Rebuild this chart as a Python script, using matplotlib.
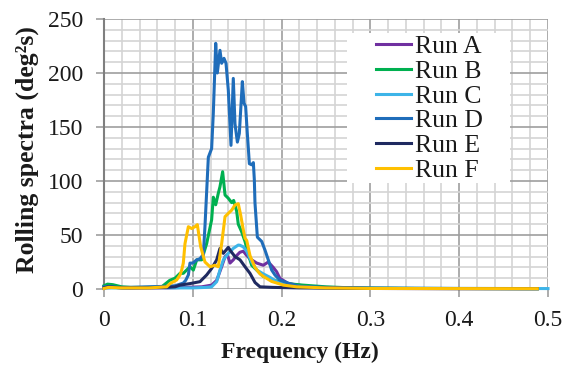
"""Rolling spectra for six runs, re-drawn from the reference figure."""

import matplotlib
matplotlib.use("Agg")
import matplotlib.pyplot as plt
import matplotlib.patches as mpatches
from matplotlib.ticker import MultipleLocator

# values
freq_a = [0, 0.01, 0.03, 0.05, 0.07, 0.09, 0.11, 0.1212, 0.1269, 0.1325, 0.1363, 0.139,
          0.1419, 0.1456, 0.1494, 0.153, 0.1569, 0.1607, 0.1644, 0.172, 0.1794, 0.185,
          0.1906, 0.1944, 0.198, 0.2076, 0.22, 0.231, 0.26, 0.3, 0.4, 0.488]
run_a = [1, 1.5, 1, 1.2, 1, 1.5, 2, 3.6, 8, 20.6, 30, 31.8,
         24, 27, 31, 34, 35, 31, 28, 24, 22, 25,
         20, 16, 10, 5, 3.5, 1.5, 1, 0.5, 0.3, 0.3]

freq_b = [0, 0.004, 0.01, 0.02, 0.03, 0.05, 0.065, 0.074, 0.08, 0.0856, 0.0893, 0.0968,
          0.1006, 0.1044, 0.11, 0.1156, 0.1212, 0.1231, 0.1258, 0.1287, 0.1306, 0.1336,
          0.1363, 0.14, 0.1438, 0.146, 0.1494, 0.1512, 0.155, 0.1588, 0.1625, 0.1663,
          0.1701, 0.1757, 0.1794, 0.1906, 0.2057, 0.224, 0.25, 0.28, 0.35, 0.488]
run_b = [3, 4.5, 4, 2, 1.5, 1.5, 2, 8, 10, 14.5, 14.5, 20.6,
         17.5, 27, 27, 42, 64, 85, 78, 88.6, 94.7, 108.6,
         87, 84, 80, 82, 72, 60, 53, 44, 32, 22,
         19, 14.5, 11.7, 8.3, 5, 3.6, 2, 1, 0.5, 0.3]

freq_c = [0, 0.02, 0.05, 0.08, 0.1, 0.115, 0.1212, 0.1269, 0.1306, 0.1344, 0.14, 0.1456,
          0.1512, 0.1532, 0.1569, 0.1607, 0.1663, 0.172, 0.1794, 0.1869, 0.1944, 0.2057,
          0.231, 0.26, 0.3, 0.4, 0.5]
run_c = [1, 1, 1.5, 1, 1, 1.5, 2, 6.8, 17.6, 27, 33, 37.6,
         40.7, 40.5, 39, 35, 25, 17.6, 14, 10.8, 6.8, 3.6,
         1.5, 1, 0.7, 0.5, 0.4]

freq_d = [0, 0.006, 0.015, 0.03, 0.05, 0.07, 0.08, 0.0893, 0.092, 0.095, 0.0968, 0.1,
          0.1044, 0.108, 0.1119, 0.1137, 0.1175, 0.1212, 0.1231, 0.1258, 0.1276, 0.1306,
          0.1325, 0.1351, 0.1374, 0.14, 0.143, 0.1456, 0.1475, 0.1502, 0.1524, 0.1558,
          0.1577, 0.1595, 0.1614, 0.1637, 0.1663, 0.1682, 0.1693, 0.17, 0.1727, 0.1776,
          0.1813, 0.185, 0.1888, 0.1925, 0.198, 0.209, 0.22, 0.25, 0.3, 0.4, 0.488]
run_d = [2, 2.5, 1.5, 1.5, 2, 2.5, 3, 5.5, 8, 13, 24, 24,
         27, 28, 32, 58, 122, 130, 163, 227.5, 200, 221,
         209, 213.6, 209, 184, 133, 195, 153, 136, 144, 192,
         172, 169, 144, 116, 115, 117, 101, 80, 48, 44,
         36, 27, 17.6, 13, 8.3, 5, 2.5, 1.5, 0.8, 0.5, 0.4]

freq_e = [0, 0.005, 0.02, 0.05, 0.07, 0.08, 0.0856, 0.0968, 0.1081, 0.1156, 0.1212, 0.1269,
          0.1306, 0.1344, 0.14, 0.1419, 0.1475, 0.1532, 0.1588, 0.1644, 0.1701, 0.1757,
          0.19, 0.22, 0.3, 0.488]
run_e = [1, 2, 1, 1, 1.5, 2, 3.6, 5, 6.8, 13, 19, 27,
         37.6, 33, 38.6, 36, 30, 27, 20.6, 14.5, 6, 2,
         1.5, 1, 0.5, 0.3]

freq_f = [0, 0.005, 0.02, 0.05, 0.0706, 0.0743, 0.0818, 0.0856, 0.0875, 0.0893, 0.0912, 0.095,
          0.0987, 0.1025, 0.1051, 0.1089, 0.1137, 0.1194, 0.125, 0.1287, 0.1325, 0.1363,
          0.14, 0.1438, 0.1475, 0.1512, 0.154, 0.1569, 0.1588, 0.1607, 0.1644, 0.17,
          0.1757, 0.1794, 0.1888, 0.202, 0.217, 0.25, 0.3, 0.488]
run_f = [0.5, 1.5, 1, 1, 2, 5, 8.3, 13, 17.6, 24, 42, 57.7,
         56, 57.7, 59.6, 39, 25, 20.6, 22, 20.6, 42, 67,
         70, 73, 77.8, 79, 68, 54.6, 47, 45, 31, 20,
         14, 11.7, 7, 3.6, 2, 1, 0.5, 0.3]

series = [
    ("Run A", freq_a, run_a, "#7030A0"),
    ("Run B", freq_b, run_b, "#00B050"),
    ("Run C", freq_c, run_c, "#3DB4E8"),
    ("Run D", freq_d, run_d, "#1F6DBA"),
    ("Run E", freq_e, run_e, "#1F2A60"),
    ("Run F", freq_f, run_f, "#FFC000"),
]

plt.rcParams["font.family"] = ["Liberation Serif", "DejaVu Serif"]
text_color = "#1A1A1A"

fig = plt.figure(figsize=(5.7, 3.68), dpi=100)
ax = fig.add_axes([104 / 570, 1 - 289 / 368, 444 / 570, 270 / 368])

for name, f, v, color in series:
    ax.plot(f, v, color=color, lw=2.2, label=name, clip_on=False, zorder=3)

ax.set_xlim(0, 0.5)
ax.set_ylim(0, 250)
ax.xaxis.set_major_locator(MultipleLocator(0.1))
ax.xaxis.set_minor_locator(MultipleLocator(0.02))
ax.yaxis.set_major_locator(MultipleLocator(50))
ax.yaxis.set_minor_locator(MultipleLocator(10))
ax.xaxis.set_major_formatter(plt.FuncFormatter(lambda x, _: "0" if x == 0 else f"{x:g}"))

ax.grid(which="minor", color="#D4D4D4", lw=1.2, zorder=0)
ax.grid(which="major", color="#9E9E9E", lw=1.2, zorder=1)
ax.set_axisbelow(True)

for side in ("top", "right", "bottom"):
    ax.spines[side].set_visible(False)
ax.spines["left"].set_color("#7F7F7F")
ax.spines["left"].set_linewidth(1.5)

ax.tick_params(which="major", length=6, width=1.2, color="#9E9E9E",
               labelsize=17, labelcolor=text_color)
ax.tick_params(axis="y", pad=9)
ax.tick_params(axis="x", pad=9)
ax.tick_params(which="minor", length=0)

ax.set_xlabel("Frequency (Hz)", fontsize=17, fontweight="bold", color=text_color)
ax.set_ylabel("Rolling spectra (deg²s)", fontsize=18.5, fontweight="bold", color=text_color)
ax.xaxis.label.set_va("center")
ax.yaxis.label.set_va("center")
ax.xaxis.set_label_coords((300 - 104) / 444, (289 - 352) / 270)
ax.yaxis.set_label_coords((27 - 104) / 444, (289 - 150) / 270)

# white block behind the legend (the reference legend has no border)
ax.add_patch(mpatches.Rectangle(((347 - 104) / 444, (289 - 183) / 270), 163 / 444, 150 / 270,
                                transform=ax.transAxes, facecolor="white", edgecolor="none",
                                zorder=4))
leg = ax.legend(loc="upper left", bbox_to_anchor=((376 - 104) / 444, (289 - 35) / 270),
                borderaxespad=0, borderpad=0, fontsize=18.5, frameon=False,
                handlelength=1.36, handletextpad=0.16, labelspacing=0.07)
leg.set_zorder(5)
for t in leg.get_texts():
    t.set_color(text_color)

fig.savefig("out.png", dpi=100)
